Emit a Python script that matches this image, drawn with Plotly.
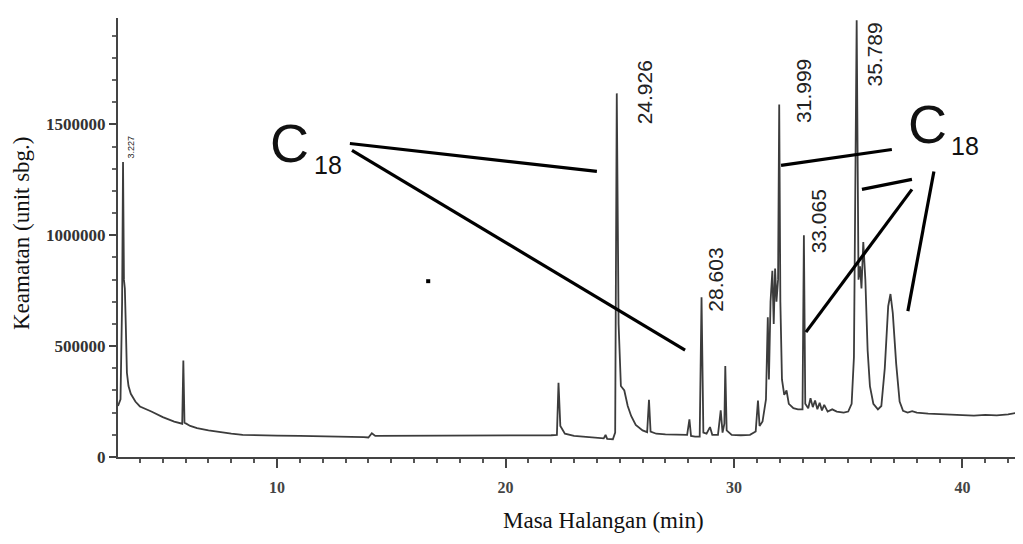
import plotly.graph_objects as go

# ---- data ----
time_min = [
    3.04, 3.15, 3.22, 3.26, 3.30, 3.34, 3.38, 3.43, 3.50, 3.60, 3.80, 4.00, 4.50, 5.00, 5.50,
    5.85, 5.90, 5.95, 6.20, 6.50, 7.00, 7.50, 8.00, 8.50, 9.00, 10.0, 11.0, 12.0, 13.0, 13.8,
    14.0, 14.15, 14.3, 15.0, 16.0, 17.0, 18.0, 19.0, 20.0, 21.0, 22.0, 22.25, 22.32, 22.4, 22.6,
    23.0, 23.5, 24.0, 24.3, 24.38, 24.45, 24.7, 24.8, 24.87, 24.95, 25.05, 25.2, 25.35, 25.5, 25.7,
    26.0, 26.2, 26.28, 26.35, 26.6, 27.0, 27.5, 27.8, 27.95, 28.05, 28.12, 28.3, 28.5, 28.58, 28.66,
    28.8, 28.95, 29.05, 29.3, 29.42, 29.5, 29.58, 29.62, 29.68, 29.9, 30.3, 30.7, 30.95, 31.05, 31.12,
    31.25, 31.40, 31.48, 31.53, 31.60, 31.68, 31.74, 31.80, 31.86, 31.93, 31.98, 32.03, 32.10, 32.20, 32.30,
    32.40, 32.6, 32.8, 33.0, 33.06, 33.12, 33.25, 33.35, 33.45, 33.55, 33.65, 33.75, 33.85, 33.95, 34.1,
    34.3, 34.5, 34.8, 35.0, 35.15, 35.25, 35.37, 35.45, 35.52, 35.58, 35.66, 35.75, 35.85, 35.95, 36.1,
    36.3, 36.45, 36.6, 36.75, 36.85, 36.95, 37.1, 37.25, 37.4, 37.6, 37.8, 38.0, 38.5, 39.0, 39.5,
    40.0, 40.5, 41.0, 41.5, 42.0, 42.4, 42.67,
]
intensity = [
    230000, 260000, 700000, 1330000, 800000, 760000, 600000, 380000, 320000, 285000, 250000, 228000, 205000, 180000, 160000,
    150000, 435000, 155000, 140000, 130000, 120000, 112000, 105000, 100000, 98000, 96000, 95000, 94000, 93000, 90000,
    88000, 107000, 95000, 95000, 96000, 96000, 97000, 97000, 98000, 98000, 98000, 100000, 335000, 140000, 105000,
    95000, 90000, 85000, 84000, 100000, 82000, 80000, 110000, 1640000, 600000, 320000, 300000, 230000, 185000, 145000,
    120000, 112000, 258000, 115000, 105000, 102000, 100000, 98000, 100000, 170000, 95000, 92000, 92000, 720000, 110000,
    105000, 135000, 100000, 100000, 210000, 110000, 150000, 410000, 120000, 100000, 98000, 100000, 115000, 255000, 140000,
    160000, 260000, 630000, 350000, 700000, 840000, 600000, 850000, 700000, 800000, 1590000, 700000, 350000, 280000, 300000,
    240000, 220000, 215000, 215000, 1000000, 240000, 220000, 265000, 225000, 255000, 215000, 245000, 210000, 235000, 205000,
    215000, 205000, 200000, 205000, 240000, 450000, 1970000, 800000, 860000, 760000, 970000, 800000, 480000, 320000, 240000,
    215000, 230000, 400000, 680000, 735000, 650000, 420000, 250000, 208000, 200000, 207000, 200000, 196000, 193000, 190000,
    188000, 187000, 190000, 188000, 192000, 200000, 200000,
]

x_tick_vals = [10, 20, 30, 40]
y_tick_vals = [0, 500000, 1000000, 1500000]
y_tick_text = ["0", "500000", "1000000", "1500000"]

# peak retention-time labels: (label, time, intensity of label centre)
peak_labels = ["3.227", "24.926", "28.603", "31.999", "33.065", "35.789"]
peak_label_t = [3.61, 26.10, 29.19, 33.04, 33.68, 36.17]
peak_label_i = [1396000, 1644000, 802000, 1653000, 1063000, 1815000]

# C18 pointer lines (t0, i0, t1, i1)
pointer_lines = [
    (13.19, 1414000, 24.00, 1288000),
    (13.28, 1383000, 27.86, 482000),
    (32.06, 1315000, 36.91, 1387000),
    (35.60, 1207000, 37.79, 1252000),
    (33.15, 563000, 37.79, 1207000),
    (37.61, 658000, 38.75, 1288000),
]

fig = go.Figure()
fig.add_trace(go.Scatter(
    x=time_min, y=intensity, mode="lines",
    line=dict(color="#3c3c3c", width=1.8),
    hoverinfo="x+y", showlegend=False,
))

shapes = []
for t0, i0, t1, i1 in pointer_lines:
    shapes.append(dict(type="line", xref="x", yref="y", x0=t0, y0=i0, x1=t1, y1=i1,
                       line=dict(color="black", width=3.2)))
# small dot artifact
shapes.append(dict(type="rect", xref="paper", yref="paper",
                   x0=0.3405, x1=0.3450, y0=0.3960, y1=0.4050,
                   fillcolor="black", line=dict(width=0)))

annotations = []
for lab, t, i in zip(peak_labels, peak_label_t, peak_label_i):
    small = lab == "3.227"
    annotations.append(dict(
        x=t, y=i, xref="x", yref="y", text=lab, showarrow=False, textangle=-90,
        xanchor="center", yanchor="middle",
        font=dict(family="Liberation Sans, Arial, sans-serif",
                  size=9 if small else 21, color="#222"),
    ))

c_font = dict(family="Liberation Sans, Arial, sans-serif", size=54, color="#111")
sub_font = dict(family="Liberation Sans, Arial, sans-serif", size=25, color="#111")
for cx, cy, sx, sy in [(0.189, 0.715, 0.232, 0.665), (0.895, 0.759, 0.936, 0.708)]:
    annotations.append(dict(x=cx, y=cy, xref="paper", yref="paper", text="C",
                            showarrow=False, xanchor="center", yanchor="middle", font=c_font))
    annotations.append(dict(x=sx, y=sy, xref="paper", yref="paper", text="18",
                            showarrow=False, xanchor="center", yanchor="middle", font=sub_font))

title_font = dict(family="Liberation Serif, Times New Roman, serif", size=23, color="#111")
annotations.append(dict(x=(603 - 118) / 905, y=(457 - 520) / 439, xref="paper", yref="paper",
                        text="Masa Halangan (min)", showarrow=False,
                        xanchor="center", yanchor="middle", font=title_font))
annotations.append(dict(x=(22 - 118) / 905, y=(457 - 233) / 439, xref="paper", yref="paper",
                        text="Keamatan (unit sbg.)", showarrow=False, textangle=-90,
                        xanchor="center", yanchor="middle", font=title_font))

tick_font = dict(family="Liberation Serif, Times New Roman, serif", size=17, color="#333", weight="bold")

# page body has an 8px margin, so the figure is sized to end at the window edge
fig.update_layout(
    width=1015, height=536,
    margin=dict(l=110, r=0, t=10, b=87),
    paper_bgcolor="white", plot_bgcolor="white",
    shapes=shapes, annotations=annotations,
    xaxis=dict(
        range=[3.04, 42.65], showgrid=False, zeroline=False,
        showline=True, linecolor="#444", linewidth=2,
        tickmode="array", tickvals=x_tick_vals, ticktext=[str(v) for v in x_tick_vals],
        ticks="outside", ticklen=9, tickwidth=2, tickcolor="#444",
        tickfont=dict(family="Liberation Serif, Times New Roman, serif", size=16, color="#444", weight="bold"),
        ticklabelstandoff=6,
        minor=dict(tickmode="linear", tick0=0, dtick=1, ticks="outside", ticklen=4,
                   tickwidth=2, tickcolor="#555"),
    ),
    yaxis=dict(
        range=[0, 1980000], showgrid=False, zeroline=False,
        showline=True, linecolor="#444", linewidth=2,
        tickmode="array", tickvals=y_tick_vals, ticktext=y_tick_text,
        ticks="outside", ticklen=7, tickwidth=2, tickcolor="#444",
        tickfont=tick_font,
        minor=dict(tickmode="linear", tick0=0, dtick=100000, ticks="outside", ticklen=4,
                   tickwidth=1.5, tickcolor="#666"),
    ),
)

fig.write_html("out.html")
